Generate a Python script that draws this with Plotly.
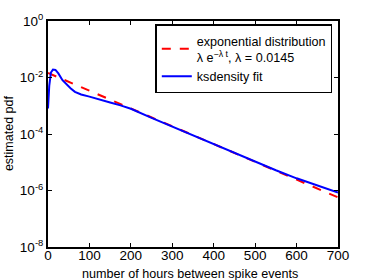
import plotly.graph_objects as go

# Data
ks_t = [0, 3, 7, 12, 18, 25, 35, 45, 55, 65, 80, 100, 125, 150, 175, 200,
        250, 300, 350, 400, 450, 500, 550, 600, 650, 700]
ks_pdf = [8e-4, 5e-3, 1.5e-2, 1.9e-2, 1.85e-2, 1.4e-2, 8e-3, 5.5e-3, 4.1e-3,
          3.1e-3, 2.5e-3, 2.1e-3, 1.7e-3, 1.3e-3, 1.03e-3, 7.8e-4,
          3.7e-4, 1.8e-4, 8.8e-5, 4.3e-5, 2.1e-5, 1.05e-5, 5.2e-6, 2.7e-6,
          1.5e-6, 8.5e-7]

exp_t = [0, 100, 200, 300, 400, 500, 600, 700]
exp_pdf = [1.45e-2, 3.4e-3, 8.0e-4, 1.9e-4, 4.4e-5, 1.03e-5, 2.4e-6, 5.7e-7]

x_ticks = [0, 100, 200, 300, 400, 500, 600, 700]
y_ticks = [1, 1e-2, 1e-4, 1e-6, 1e-8]
y_ticktext = ["10<sup>0</sup>", "10<sup>-2</sup>", "10<sup>-4</sup>",
              "10<sup>-6</sup>", "10<sup>-8</sup>"]

x_title = "number of hours between spike events"
y_title = "estimated pdf"
exp_name = "exponential distribution<br>\u03bb e<sup>\u2212\u03bb t</sup>, \u03bb = 0.0145"
ks_name = "ksdensity fit"

fig = go.Figure()
fig.add_trace(go.Scatter(x=exp_t, y=exp_pdf, mode="lines", name=exp_name,
                         line=dict(color="#ff0000", width=2, dash="dash")))
fig.add_trace(go.Scatter(x=ks_t, y=ks_pdf, mode="lines", name=ks_name,
                         line=dict(color="#0000ff", width=2)))

axis_common = dict(showline=True, linecolor="black", linewidth=2, mirror="ticks",
                   ticks="inside", ticklen=4, tickcolor="black", tickwidth=1,
                   showgrid=False, zeroline=False, automargin=False,
                   tickfont=dict(family="Liberation Sans, Arial", size=13.5, color="black"))

fig.update_layout(
    width=374, height=280,
    margin=dict(l=48, r=36, t=21, b=33),
    paper_bgcolor="white", plot_bgcolor="white",
    font=dict(family="Liberation Sans, Arial", size=12, color="black"),
    showlegend=True,
    legend=dict(x=0.37, y=0.985, xanchor="left", yanchor="top",
                bgcolor="white", bordercolor="black", borderwidth=1.5,
                font=dict(size=12.6), tracegroupgap=0, itemwidth=30,
                traceorder="normal"),
    xaxis=dict(range=[0, 700], tickvals=x_ticks, ticklabelstandoff=-5,
               **axis_common),
    yaxis=dict(type="log", range=[-8, 0], tickvals=y_ticks, ticktext=y_ticktext,
               **axis_common),
    annotations=[
        dict(text=x_title, xref="paper", yref="paper", x=0.49, y=-0.118,
             xanchor="center", yanchor="middle", showarrow=False,
             font=dict(size=12.6)),
        dict(text=y_title, xref="paper", yref="paper", x=-0.136, y=0.502,
             xanchor="center", yanchor="middle", showarrow=False, textangle=-90,
             font=dict(size=12.5)),
    ],
)

fig.write_html("out.html", config={"displayModeBar": False},
               post_script="document.body.style.margin='0';")
